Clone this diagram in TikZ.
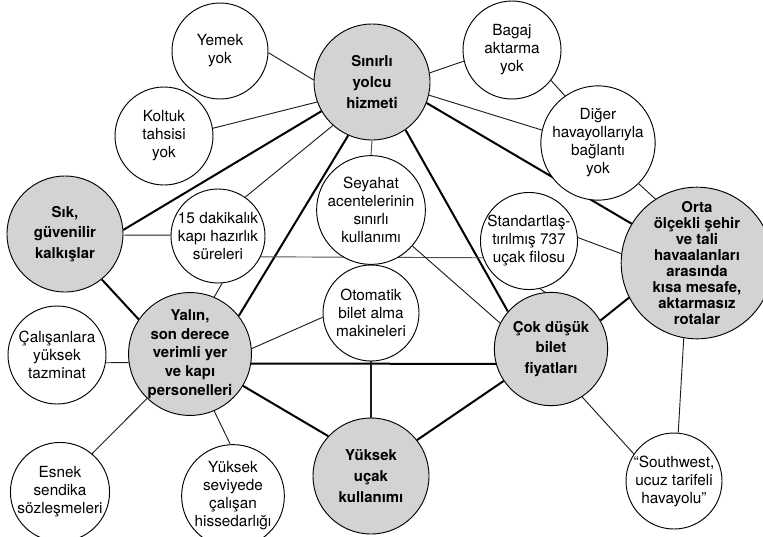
\documentclass[tikz,border=0pt]{standalone}
\usepackage{fontspec}
\setmainfont{TeX Gyre Heros}
\usetikzlibrary{backgrounds}
\definecolor{nodegray}{RGB}{211,211,213}
\definecolor{linkdark}{RGB}{30,30,30}
\definecolor{linkmid}{RGB}{80,80,80}

\begin{document}
\begin{tikzpicture}[x=0.75pt,y=-0.75pt,
  wn/.style={circle,draw,line width=0.7pt,fill=white,inner sep=0pt,
    minimum size=72pt,align=center,font=\fontsize{11.5}{13.5}\selectfont},
  gn/.style={circle,draw,line width=0.7pt,fill=nodegray,inner sep=0pt,
    minimum size=87pt,align=center,font=\fontsize{11.2}{16}\selectfont\bfseries},
  link/.style={line width=0.7pt,draw=linkdark},
  mlink/.style={line width=0.7pt,draw=linkmid},
  strong/.style={line width=1.5pt,draw=black}]
\useasboundingbox (0,0) rectangle (763,536);

% ---- grey core activities
\node[gn] (sinirli) at (372,82) {Sınırlı\\yolcu\\hizmeti};
\node[gn,minimum size=100pt,font=\fontsize{11.2}{12}\selectfont\bfseries] (orta) at (697,263)
  {Orta\\ölçekli şehir\\ve tali\\havaalanları\\arasında\\kısa mesafe,\\aktarmasız\\rotalar};
\node[gn,font=\fontsize{11.2}{15.5}\selectfont\bfseries] (sik) at (65,234) {Sık,\\güvenilir\\kalkışlar};
\node[gn,minimum size=90pt,font=\fontsize{11.2}{14}\selectfont\bfseries] (yalin) at (190,354)
  {Yalın,\\son derece\\verimli yer\\ve kapı\\personelleri};
\node[gn,minimum size=85pt,font=\fontsize{11.2}{15.5}\selectfont\bfseries] (cok) at (551,349) {Çok düşük\\bilet\\fiyatları};
\node[gn] (yuksek) at (371,476) {Yüksek\\uçak\\kullanımı};

% ---- white supporting activities
\node[wn] (yemek) at (220,51) {Yemek\\yok};
\node[wn,minimum size=73.5pt] (koltuk) at (164,136) {Koltuk\\tahsisi\\yok};
\node[wn,minimum size=73.5pt] (bagaj) at (512,50) {Bagaj\\aktarma\\yok};
\node[wn] (diger) at (598,143) {Diğer\\havayollarıyla\\bağlantı\\yok};
\node[wn,minimum size=70.5pt] (dakika) at (218,236) {15 dakikalık\\kapı hazırlık\\süreleri};
\node[wn] (seyahat) at (371,210) {Seyahat\\acentelerinin\\sınırlı\\kullanımı};
\node[wn,minimum size=69pt] (standart) at (529,241) {Standartlaş-\\tırılmış 737\\uçak filosu};
\node[wn] (otomatik) at (371,313) {Otomatik\\bilet alma\\makineleri};
\node[wn,minimum size=73.5pt] (calisan) at (57,355) {Çalışanlara\\yüksek\\tazminat};
\node[wn] (esnek) at (60,492) {Esnek\\sendika\\sözleşmeleri};
\node[wn,minimum size=70.5pt] (hisse) at (233,496) {Yüksek\\seviyede\\çalışan\\hissedarlığı};
\node[wn] (sw) at (674,481) {“Southwest,\\ucuz tarifeli\\havayolu”};

\begin{scope}[on background layer]
  % strong links between core activities
  \draw[strong] (sik.4) -- (sinirli.210);
  \draw[strong] (sinirli.246) -- (yalin.38);
  \draw[strong] (sinirli.-55.5) -- (cok.139.7);
  \draw[strong] (sinirli.-21) -- (orta.149.7);
  \draw[strong] (sik.-51.5) -- (yalin.146.6);
  \draw[strong] (yalin.-9.6) -- (cok.195.3);
  \draw[strong] (yalin.-31) -- (yuksek.137);
  \draw[strong] (cok.214.3) -- (yuksek.38.2);
  \draw[strong] (cok.30.8) -- (orta.207.3);

  % thin links to supporting activities
  \draw[link] (yemek.-2.4) -- (sinirli.178);
  \draw[link] (koltuk.9.3) -- (sinirli.200.2);
  \draw[link] (sinirli.9.1) -- (bagaj.193.2);
  \draw[link] (bagaj.-38.8) -- (diger.125.8);
  \draw[link] (sinirli.-13.1) -- (diger.167);
  \draw[link] (diger.-45) -- (orta.123.7);
  \draw[link] (sik.-1) -- (dakika.179);
  \draw[link] (dakika.55.3) -- (sinirli.228.7);
  \draw[link] (dakika.-85) -- (yalin.67.4);
  \draw[mlink] (sinirli.south) -- (seyahat.north);
  \draw[mlink] (seyahat.south) -- (otomatik.north);
  \draw[mlink] (dakika.-26.5) -- (standart.200.4);
  \draw[link] (seyahat.-41.6) -- (cok.153.9);
  \draw[link] (standart.4.8) -- (orta.173);
  \draw[link] (standart.-77.6) -- (cok.96);
  \draw[link] (otomatik.185.8) -- (yalin.5);
  \draw[link,line width=0.9pt] (otomatik.south) -- (yuksek.north);
  \draw[link] (calisan.-9.4) -- (yalin.188.6);
  \draw[link] (yalin.226.3) -- (esnek.50);
  \draw[link] (yalin.-67) -- (hisse.93.6);
  \draw[link] (cok.-57.7) -- (sw.146.6);
  \draw[link] (orta.-100) -- (sw.85);
\end{scope}
\end{tikzpicture}
\end{document}
